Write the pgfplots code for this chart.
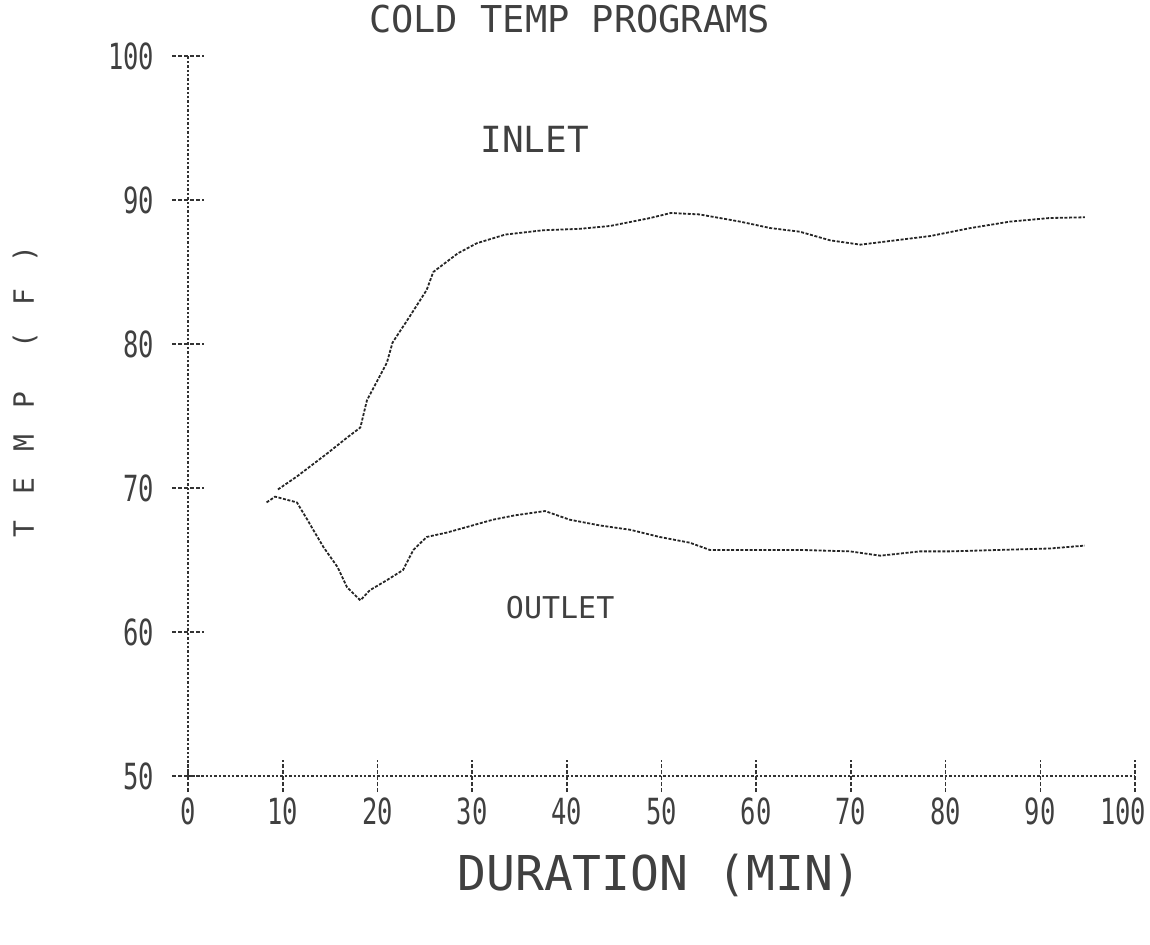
\documentclass[border=0pt]{standalone}
\usepackage{fontspec}
\setmainfont{DejaVu Sans Mono}
\usepackage{pgfplots}
\pgfplotsset{compat=1.18}
\begin{document}
\begin{tikzpicture}
\useasboundingbox (-94pt,-84pt) rectangle (481pt,388pt);
\begin{axis}[
  at={(0,0)}, anchor=south west,
  scale only axis, width=473.5pt, height=360pt,
  xmin=0, xmax=100, ymin=50, ymax=100,
  axis lines=left,
  axis line style={black!80, line width=0.8pt, dash pattern=on 1.2pt off 1pt, -},
  xtick={0,10,...,100}, ytick={50,60,...,100},
  xticklabels={0,10,20,30,40,50,60,70,80,90,\hspace*{-14pt}100},
  tick align=center,
  major tick length=16pt,
  tick style={black!80, line width=0.8pt, dash pattern=on 2pt off 1pt},
  /pgf/number format/assume math mode=true,
  ticklabel style={font=\fontsize{15}{18}\selectfont, text=black!75, xscale=0.85, yscale=1.2},
  xticklabel style={anchor=north, yshift=1pt},
  yticklabel style={anchor=east, xshift=-7pt},
  clip=false,
]
\addplot[black!85, line width=0.9pt, dash pattern=on 1.5pt off 0.8pt] coordinates {
(9.5,69.9)(11.5,70.8)(14.7,72.4)(16.8,73.5)(18.2,74.2)(18.9,76.1)(21,78.7)(21.6,80.1)(23.4,81.9)(25.2,83.75)(25.9,85)(28.5,86.3)(30.5,87)(33.5,87.6)(37.5,87.9)(41.4,88)(44.6,88.2)(48.8,88.75)(51,89.1)(54,89)(58.3,88.5)(61.5,88.05)(64.6,87.8)(67.8,87.2)(71,86.9)(74.7,87.2)(78.4,87.5)(82.6,88.05)(86.8,88.5)(91,88.75)(94.7,88.8)
};
\addplot[black!85, line width=0.9pt, dash pattern=on 1.5pt off 0.8pt] coordinates {
(8.3,69)(9.2,69.4)(11.5,69)(12.6,67.8)(13.4,66.9)(14.3,65.9)(15.8,64.5)(16.8,63.1)(18.2,62.2)(19.2,62.9)(21,63.6)(22.7,64.3)(23.8,65.7)(25.2,66.6)(27.3,66.9)(29.5,67.3)(32.2,67.8)(34.5,68.1)(37.7,68.4)(40.3,67.8)(43.5,67.4)(46.7,67.1)(49.8,66.6)(53,66.2)(55.1,65.7)(59.3,65.7)(64.6,65.7)(69.9,65.6)(73.1,65.3)(77.3,65.6)(80.5,65.6)(85.7,65.7)(91,65.8)(94.7,66)
};
\node[text=black!75, font=\fontsize{18.5}{20}\selectfont] at (axis cs:40.3,102.6) {COLD TEMP PROGRAMS};
\node[text=black!75, font=\fontsize{18}{20}\selectfont] at (axis cs:36.6,94.2) {INLET};
\node[text=black!75, font=\fontsize{15}{18}\selectfont] at (axis cs:39.3,61.7) {OUTLET};
\node[text=black!75, font=\fontsize{24}{26}\selectfont] at (axis cs:49.8,43.1) {DURATION (MIN)};
\node[text=black!75, font=\fontsize{14}{16}\selectfont, rotate=90] at (axis cs:-17.2,76.7) {T\hspace{13pt}E\hspace{13pt}M\hspace{13pt}P\hspace{22pt}(\hspace{13pt}F\hspace{13pt})};
\end{axis}
\end{tikzpicture}
\end{document}
